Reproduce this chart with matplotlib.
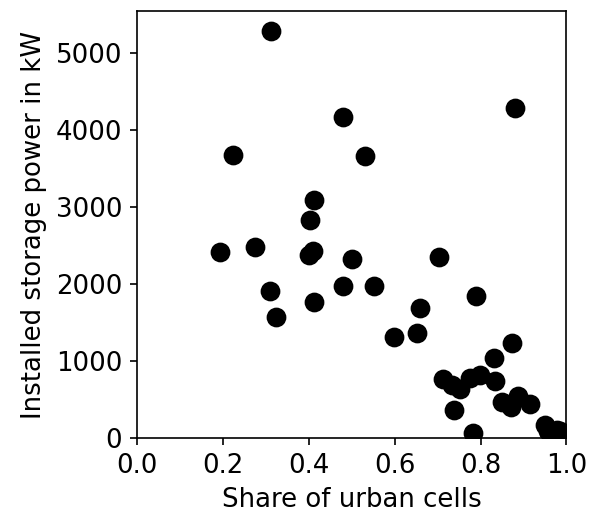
import numpy as np
import matplotlib
matplotlib.use("Agg")
import matplotlib.pyplot as plt

# share of urban cells vs installed storage power (kW)
urban_share = [0.312, 0.480, 0.224, 0.532, 0.412, 0.403, 0.881,
               0.193, 0.274, 0.400, 0.411, 0.501, 0.309, 0.412, 0.324,
               0.480, 0.552, 0.704, 0.790, 0.660, 0.598, 0.652, 0.873,
               0.831, 0.712, 0.733, 0.752, 0.775, 0.799, 0.834, 0.738,
               0.782, 0.850, 0.870, 0.887, 0.915, 0.950, 0.956, 0.978, 0.985]
storage_kw = [5281, 4164, 3679, 3657, 3091, 2826, 4286,
              2416, 2476, 2381, 2424, 2329, 1913, 1774, 1579,
              1969, 1978, 2346, 1848, 1692, 1311, 1364, 1234,
              1039, 766, 692, 636, 779, 815, 748, 372,
              65, 465, 400, 550, 445, 178, 95, 105, 90]

plt.rcParams['font.size'] = 12.5

fig = plt.figure(figsize=(595 / 150, 513 / 150), dpi=150)
ax = fig.add_subplot(111)
fig.subplots_adjust(left=0.230, right=0.952, bottom=0.1456, top=0.9786)

ax.scatter(urban_share, storage_kw, s=72, color="black")
ax.set_xlim(0, 1)
ax.set_ylim(bottom=0)
ax.set_xlabel("Share of urban cells")
ax.set_ylabel("Installed storage power in kW")

fig.savefig("out.png", dpi=150)
